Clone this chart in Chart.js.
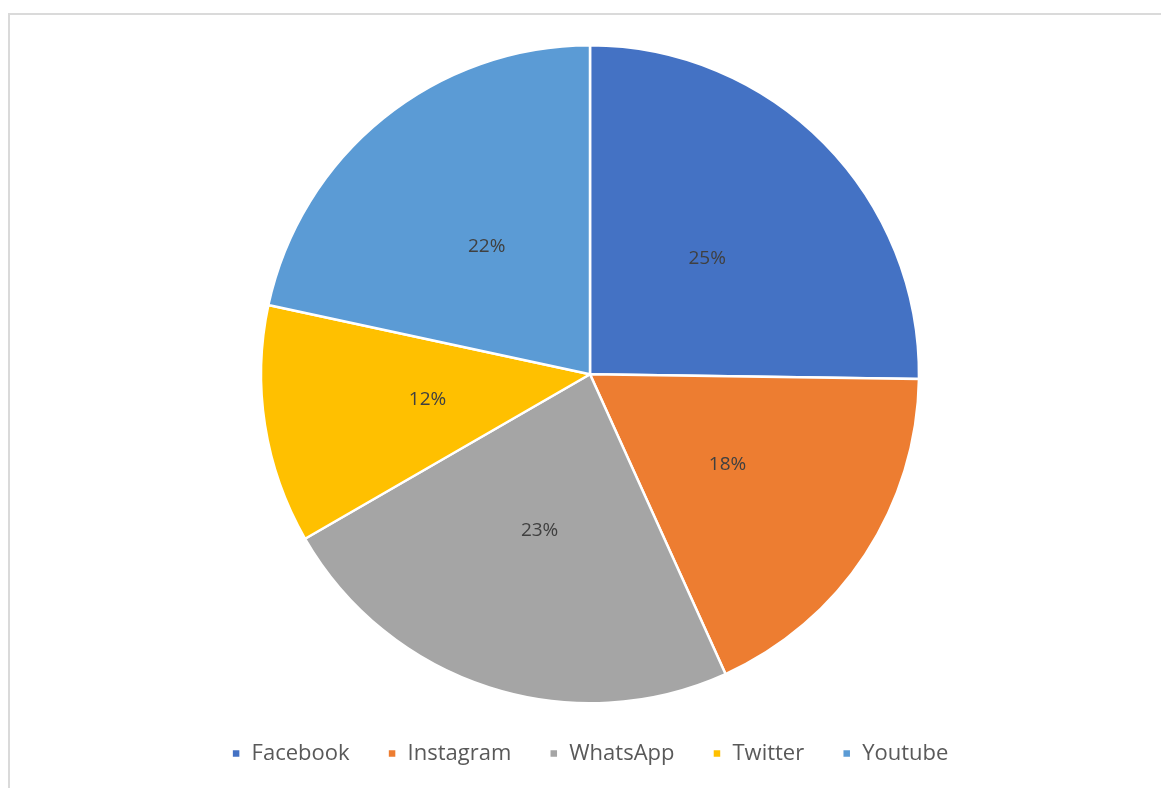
<!DOCTYPE html>
<html>
<head>
<meta charset="utf-8">
<script src="https://cdn.jsdelivr.net/npm/chart.js@4/dist/chart.umd.min.js"></script>
<style>
  html, body { margin: 0; padding: 0; background: #ffffff; }
  body { width: 1161px; height: 788px; position: relative; overflow: hidden; font-family: "Open Sans", sans-serif; }
  #frame { position: absolute; left: 8px; top: 13px; width: 1200px; height: 800px;
           border-left: 2px solid #dadada; border-top: 2px solid #dadada; box-sizing: border-box; }
  #wrap { position: absolute; left: 0; top: 0; width: 1161px; height: 788px; }
</style>
</head>
<body>
<div id="frame"></div>
<div id="wrap"><canvas id="c" width="1161" height="788"></canvas></div>
<script>
const categories = ["Facebook", "Instagram", "WhatsApp", "Twitter", "Youtube"];
const counts = [28, 20, 26, 13, 24];
const sliceColors = ["#4472C4", "#ED7D31", "#A5A5A5", "#FFC000", "#5B9BD5"];

const pctLabels = {
  id: "pctLabels",
  afterDatasetsDraw(chart) {
    const ctx = chart.ctx;
    const meta = chart.getDatasetMeta(0);
    const data = chart.data.datasets[0].data;
    const total = data.reduce((a, b) => a + b, 0);
    ctx.save();
    ctx.font = "19px 'Open Sans'";
    ctx.fillStyle = "#404040";
    ctx.textAlign = "center";
    ctx.textBaseline = "middle";
    meta.data.forEach((arc, i) => {
      const p = arc.tooltipPosition();
      ctx.fillText(Math.round(data[i] / total * 100) + "%", p.x, p.y);
    });
    ctx.restore();
  }
};

new Chart(document.getElementById("c"), {
  type: "pie",
  data: {
    labels: categories,
    datasets: [{
      data: counts,
      backgroundColor: sliceColors,
      borderColor: "#ffffff",
      borderWidth: 2.5
    }]
  },
  options: {
    responsive: false,
    animation: false,
    layout: { padding: { left: 19, right: 0, top: 44, bottom: 13.5 } },
    plugins: {
      tooltip: { enabled: false },
      legend: {
        position: "bottom",
        labels: {
          boxWidth: 9,
          boxHeight: 9,
          padding: 38,
          color: "#595959",
          font: { family: "'Open Sans'", size: 22 }
        }
      }
    }
  },
  plugins: [pctLabels]
});
</script>
</body>
</html>
